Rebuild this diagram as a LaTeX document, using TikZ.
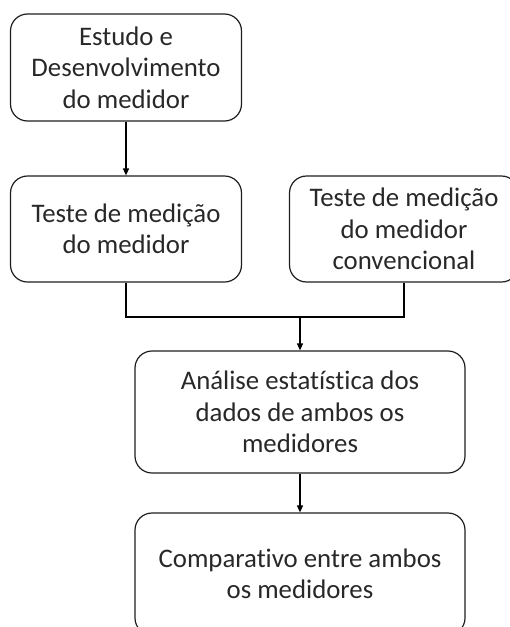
\documentclass[tikz,border=0pt]{standalone}
\usepackage{fontspec}
\setmainfont{Carlito}[Ligatures={NoCommon}]
\usetikzlibrary{arrows.meta}
\definecolor{textgray}{RGB}{40,40,40}
\definecolor{linegray}{RGB}{30,30,30}
\begin{document}
\begin{tikzpicture}[x=1pt,y=-1pt,
  box/.style={draw=linegray, line width=1.2pt, rounded corners=17pt, align=center,
    font=\fontsize{26.8}{31.5}\selectfont, text=textgray, inner sep=0pt},
  conn/.style={draw=black, line width=1.2pt},
  arr/.style={conn, -{Triangle[length=7pt,width=6pt]}}]
\useasboundingbox (0,0) rectangle (510,627);
\clip (0,0) rectangle (510,627);
\node[box, minimum width=231pt, minimum height=107pt] (b1) at (126,67.5)
  {Estudo e\\Desenvolvimento\\do medidor};
\node[box, minimum width=231pt, minimum height=106pt] (b2) at (126,229)
  {Teste de medição\\do medidor};
\node[box, minimum width=229pt, minimum height=106pt] (b3) at (404,229)
  {Teste de medição\\do medidor\\convencional};
\node[box, minimum width=330pt, minimum height=122pt] (b4) at (300,412)
  {Análise estatística dos\\dados de ambos os\\medidores};
\node[box, minimum width=330pt, minimum height=122pt] (b5) at (300,574)
  {Comparativo entre ambos\\os medidores};
\coordinate (m) at (300,317);
\draw[arr] (b1) -- (b2);
\draw[conn] (b2.south) |- (m) -| (b3.south);
\draw[arr] (m) -- (b4.north);
\draw[arr] (b4) -- (b5);
\end{tikzpicture}
\end{document}
